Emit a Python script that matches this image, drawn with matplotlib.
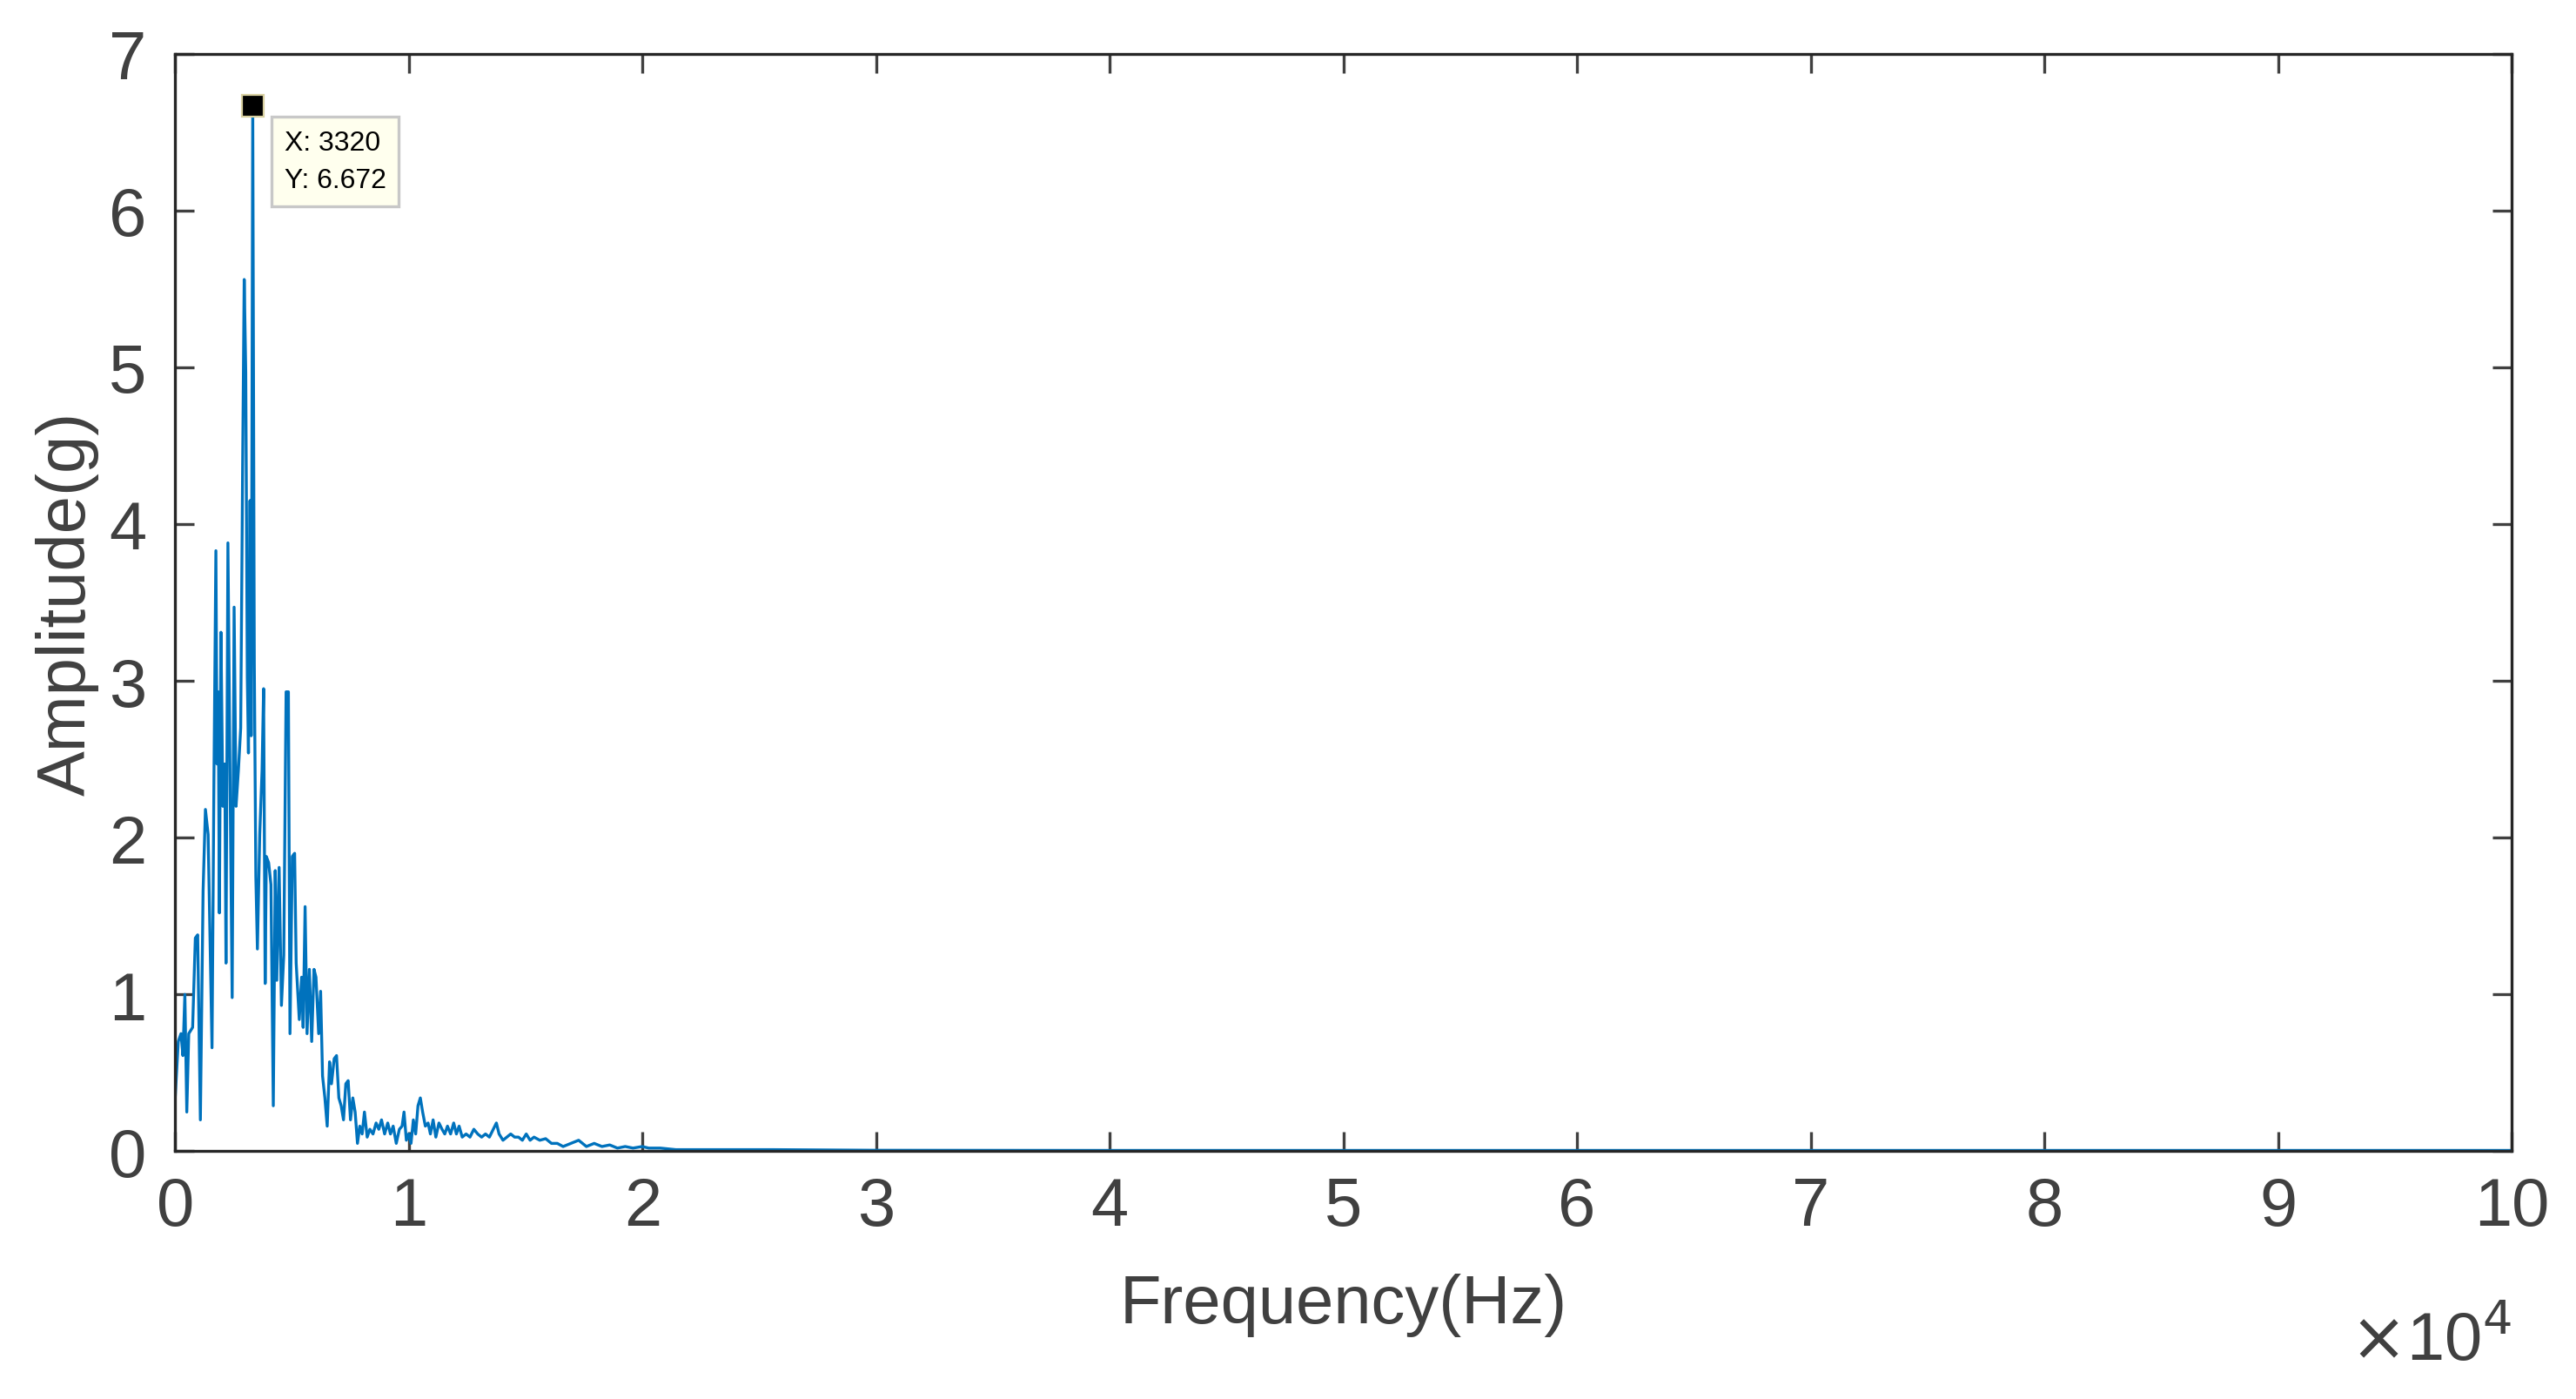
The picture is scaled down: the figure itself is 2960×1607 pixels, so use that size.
import matplotlib
matplotlib.use("Agg")
import matplotlib.pyplot as plt

freq = [0,133,249,332,415,498,581,747,863,963,1079,1195,1295,1411,1494,1577,1660,1743,1793,1843,1893,1959,2042,2125,2175,2258,2357,2440,2523,2606,2706,2805,2888,2955,3021,3088,3137,3204,3254,3320,3387,3453,3520,3619,3719,3785,3851,3901,4001,4100,4200,4283,4349,4449,4548,4648,4748,4847,4914,5013,5113,5179,5312,5412,5478,5561,5644,5744,5843,5943,6026,6142,6225,6308,6408,6507,6607,6690,6806,6906,7006,7105,7205,7304,7404,7504,7603,7703,7803,7902,8002,8101,8218,8334,8467,8600,8716,8832,8965,9098,9214,9330,9463,9596,9712,9795,9895,9995,10094,10194,10293,10393,10493,10592,10708,10825,10924,11040,11157,11290,11422,11539,11655,11788,11921,12037,12153,12286,12452,12618,12784,12950,13116,13283,13449,13615,13748,13864,14030,14196,14362,14528,14694,14860,15026,15192,15358,15607,15857,16106,16355,16605,16937,17269,17601,17934,18266,18598,18930,19262,19595,19990,20266,20765,21429,22260,23090,23920,24751,25581,30000,40000,50000,60000,70000,80000,90000,100000]
amp = [0.34,0.70,0.75,0.61,1.0,0.25,0.75,0.79,1.36,1.38,0.20,1.66,2.18,2.02,1.34,0.66,2.38,3.83,2.47,2.93,1.52,3.31,2.20,2.47,1.20,3.88,2.24,0.98,3.47,2.20,2.43,2.70,4.38,5.56,4.97,3.02,2.54,4.15,2.65,6.672,3.11,1.75,1.29,2.02,2.43,2.95,1.07,1.88,1.84,1.70,0.29,1.79,1.09,1.81,0.93,1.25,2.93,2.93,0.75,1.88,1.90,1.20,0.84,1.11,0.79,1.56,0.75,1.16,0.70,1.16,1.11,0.75,1.02,0.48,0.34,0.16,0.57,0.43,0.59,0.61,0.34,0.29,0.20,0.43,0.45,0.20,0.34,0.25,0.05,0.16,0.11,0.25,0.09,0.14,0.11,0.18,0.14,0.20,0.11,0.18,0.11,0.16,0.05,0.14,0.16,0.25,0.07,0.11,0.05,0.20,0.11,0.29,0.34,0.25,0.16,0.18,0.11,0.20,0.09,0.18,0.14,0.11,0.16,0.11,0.18,0.11,0.16,0.09,0.11,0.09,0.14,0.11,0.09,0.11,0.09,0.14,0.18,0.11,0.07,0.09,0.11,0.09,0.09,0.07,0.11,0.07,0.09,0.07,0.08,0.05,0.05,0.03,0.05,0.07,0.03,0.05,0.03,0.04,0.02,0.03,0.02,0.03,0.02,0.02,0.01,0.01,0.01,0.01,0.01,0.01,0.006,0.005,0.005,0.005,0.005,0.005,0.005,0.005]

peak_x, peak_y = 3320, 6.672
xticks = list(range(0, 100001, 10000))
xticklabels = [str(i) for i in range(11)]

plt.rcParams['font.family'] = ['Arial', 'Liberation Sans', 'DejaVu Sans']
dark = '#404040'
fig = plt.figure(figsize=(14.8, 8.04), dpi=200)
ax = fig.add_axes([0.068, 0.177, 0.907, 0.784])
ax.plot(freq, amp, color='#0072BD', lw=1.2)
ax.set_xlim(0, 100000)
ax.set_ylim(0, 7)
ax.set_xticks(xticks)
ax.set_xticklabels(xticklabels)
ax.set_yticks(range(8))
ax.tick_params(direction='in', length=8, width=1.2, labelsize=28, colors=dark,
               top=True, right=True, pad=10)
ax.tick_params(axis='y', pad=12)
for s in ax.spines.values():
    s.set_color('#262626'); s.set_linewidth(1.2)
ax.set_xlabel('Frequency(Hz)', fontsize=28, color=dark, labelpad=14)
ax.set_ylabel('Amplitude(g)', fontsize=28, color=dark, labelpad=4)
fig.text(0.975, 0.018, r'$\times$10$^{4}$', fontsize=28, color=dark, ha='right', va='bottom')
ax.plot([peak_x], [peak_y], marker='s', color='black', ms=9, mec='#d8d0a0', mew=0.8)
ax.annotate(f'X: {peak_x}\nY: {peak_y}', xy=(peak_x, peak_y), xytext=(13, -10),
            textcoords='offset points', ha='left', va='top', fontsize=11.5, color='black',
            linespacing=1.6,
            bbox=dict(boxstyle='square,pad=0.45', fc='#ffffee', ec='#c8c8c8', lw=1.2))
fig.savefig('out.png', dpi=200)
